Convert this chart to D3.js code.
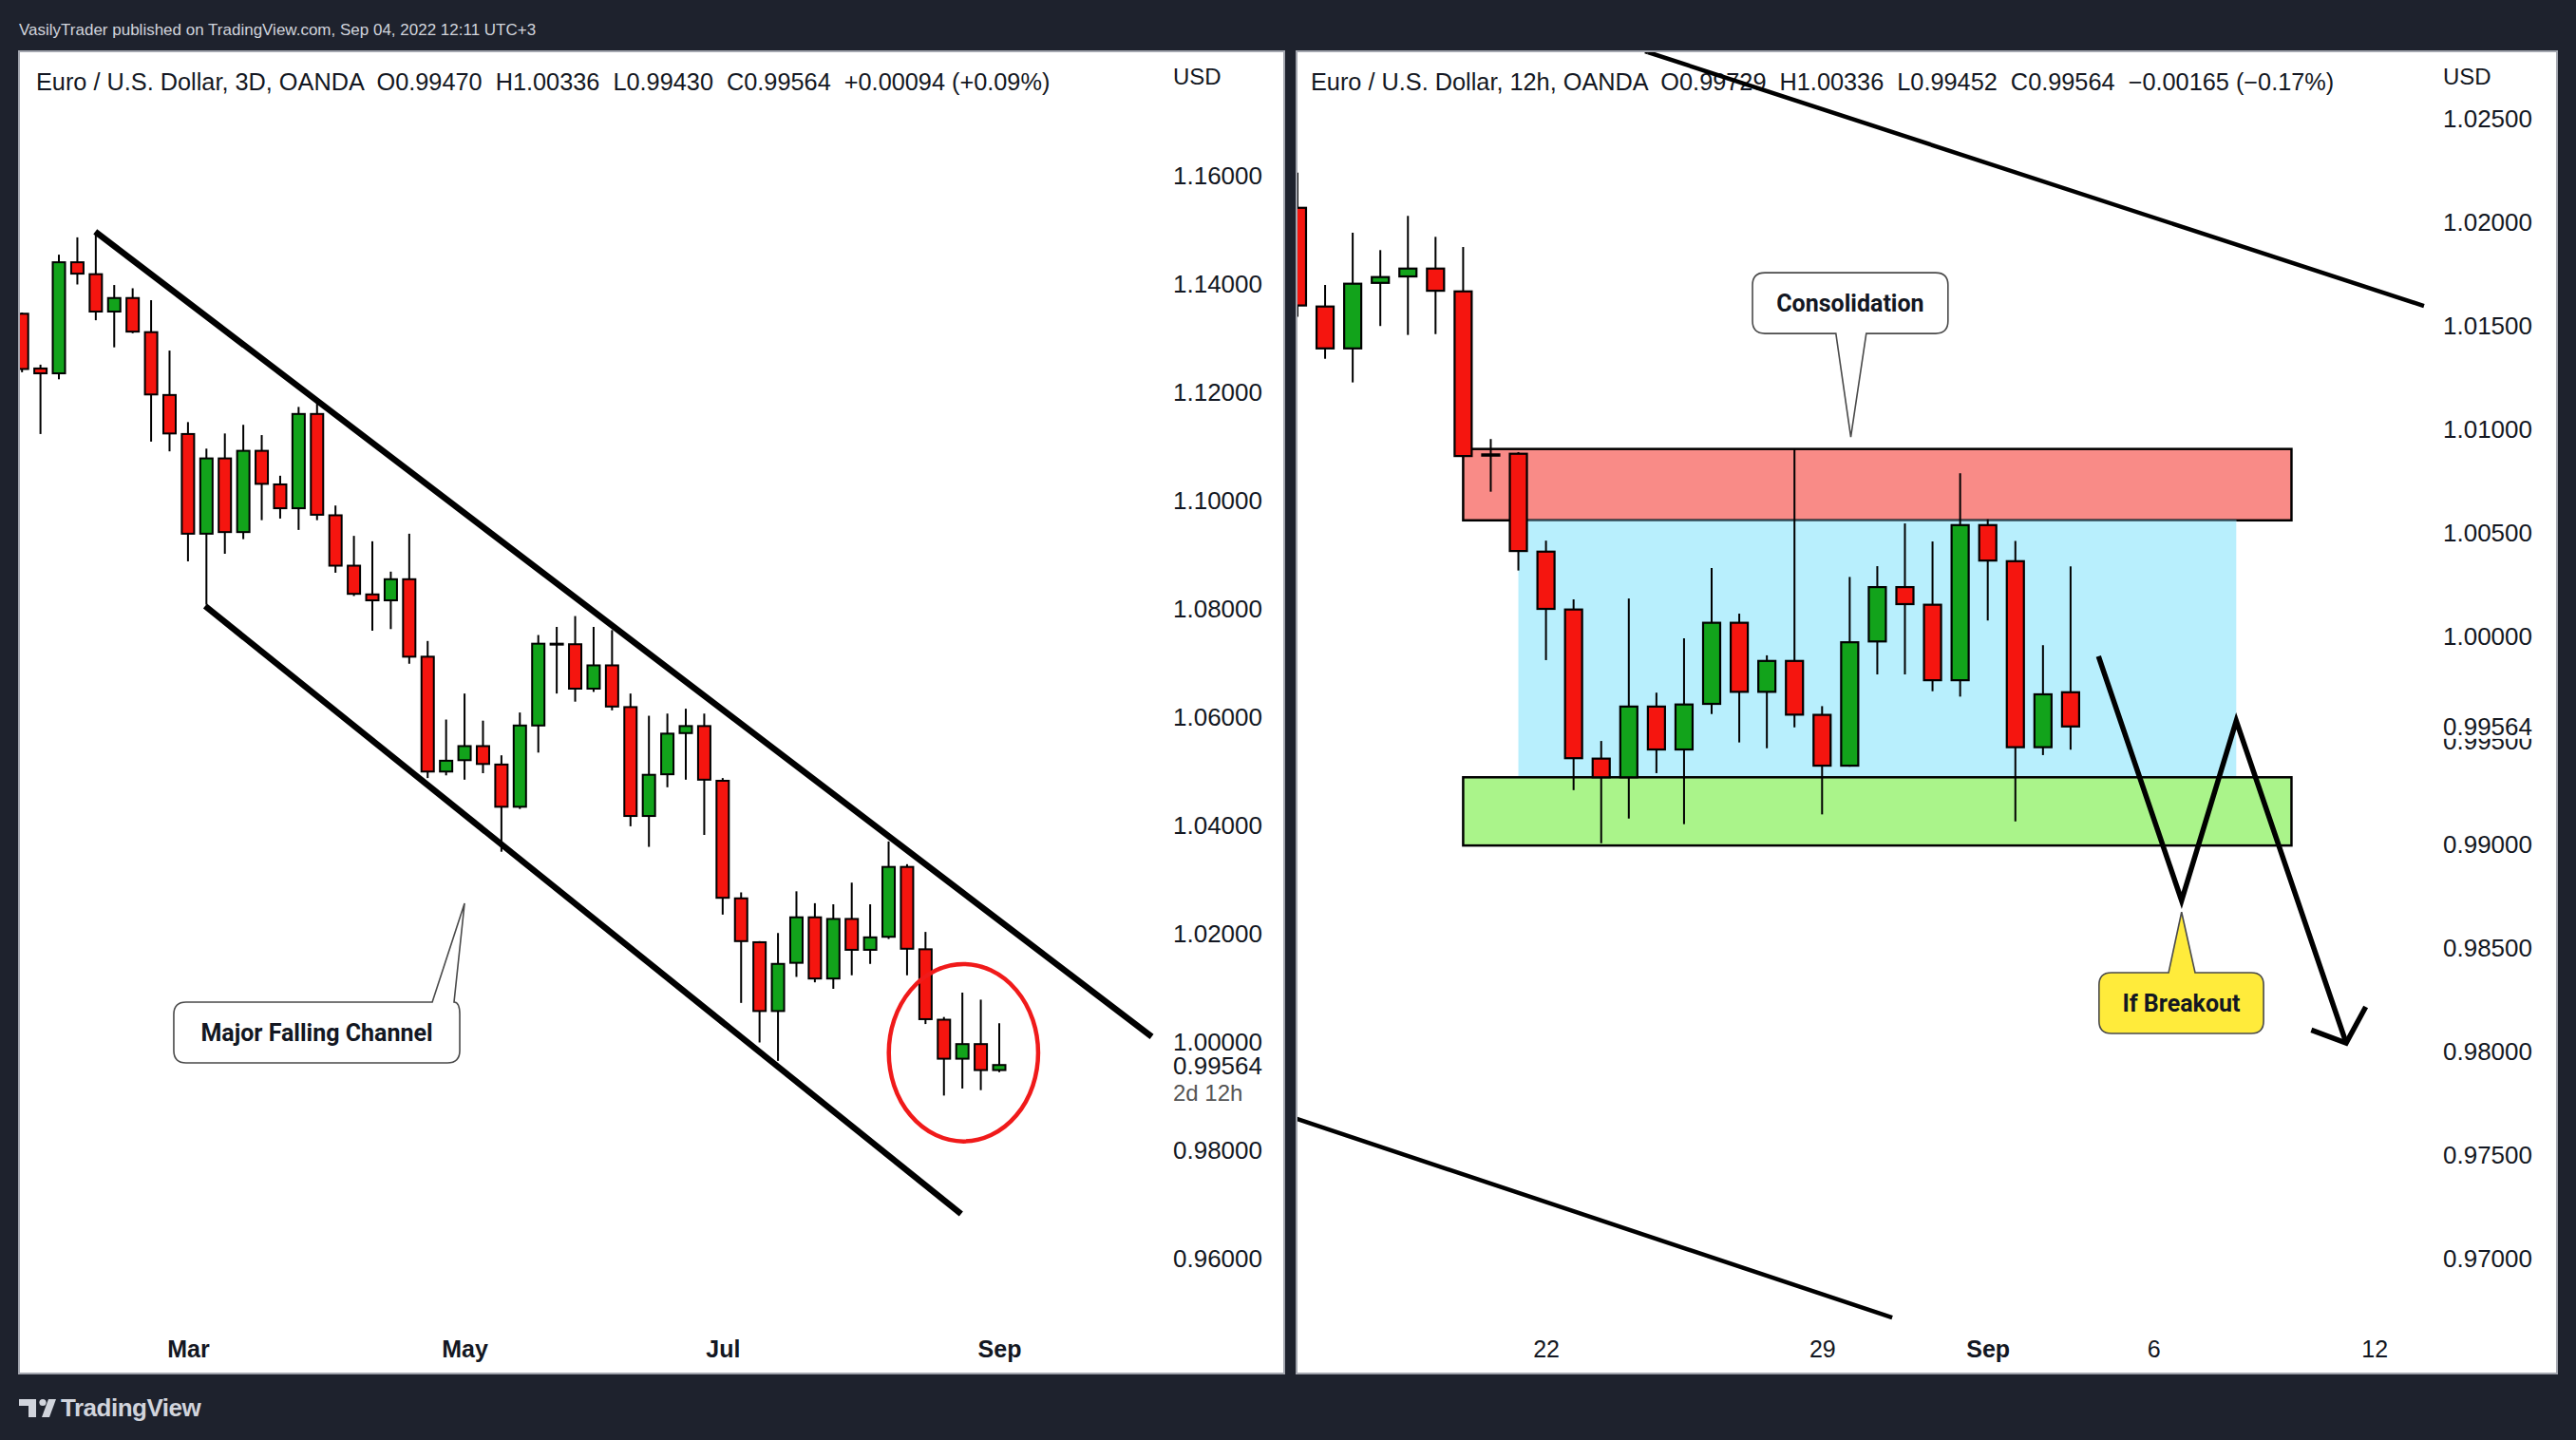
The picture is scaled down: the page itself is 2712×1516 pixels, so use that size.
<!DOCTYPE html>
<html><head><meta charset="utf-8">
<script src="https://cdn.jsdelivr.net/npm/d3@7"></script>
<style>body{margin:0;background:#1e222d;overflow:hidden} svg{display:block}</style>
</head><body><svg id="c" width="2712" height="1516"></svg>
<script>
// ---------------- DATA ----------------
// Left: EURUSD 3D candles (index 0..53)
const leftOpen  = [1.1343,1.1242,1.1233,1.1438,1.1416,1.1347,1.1372,1.1309,1.1193,1.1121,1.0937,1.1076,1.0940,1.1090,1.1028,1.0984,1.1158,1.0971,1.0878,1.0825,1.0814,1.0853,1.0710,1.0498,1.0519,1.0545,1.0511,1.0433,1.0583,1.0734,1.0733,1.0651,1.0694,1.0617,1.0416,1.0493,1.0569,1.0582,1.0481,1.0264,1.0183,1.0056,1.0145,1.0229,1.0116,1.0226,1.0169,1.0193,1.0322,1.0170,1.0040,0.9968,0.9995,0.99470];
const leftHigh  = [1.1345,1.1249,1.1452,1.1484,1.1493,1.1396,1.1390,1.1368,1.1275,1.1143,1.1094,1.1122,1.1138,1.1119,1.1044,1.1171,1.1180,1.0989,1.0933,1.0923,1.0867,1.0937,1.0739,1.0594,1.0642,1.0592,1.0528,1.0607,1.0750,1.0765,1.0785,1.0765,1.0759,1.0642,1.0601,1.0605,1.0614,1.0605,1.0486,1.0275,1.0185,1.0200,1.0277,1.0255,1.0253,1.0293,1.0253,1.0369,1.0327,1.0202,1.0045,1.0090,1.0077,1.00336];
const leftLow   = [1.1235,1.1121,1.1222,1.1397,1.1331,1.1281,1.1307,1.1107,1.1089,1.0886,1.0806,1.0900,1.0927,1.0962,1.0965,1.0944,1.0962,1.0865,1.0822,1.0758,1.0761,1.0697,1.0486,1.0491,1.0483,1.0495,1.0350,1.0429,1.0533,1.0642,1.0627,1.0645,1.0611,1.0397,1.0359,1.0469,1.0483,1.0381,1.0234,1.0071,0.9998,0.9964,1.0119,1.0109,1.0097,1.0122,1.0143,1.0189,1.0122,1.0032,0.9900,0.9913,0.9910,0.99430];
const leftClose = [1.1241,1.1233,1.1438,1.1417,1.1347,1.1372,1.1310,1.1194,1.1122,1.0937,1.1076,1.0940,1.1090,1.1029,1.0984,1.1158,1.0972,1.0878,1.0826,1.0814,1.0853,1.0710,1.0498,1.0518,1.0545,1.0512,1.0433,1.0583,1.0734,1.0733,1.0651,1.0694,1.0618,1.0416,1.0492,1.0568,1.0582,1.0483,1.0265,1.0185,1.0056,1.0143,1.0229,1.0116,1.0226,1.0169,1.0192,1.0322,1.0171,1.0041,0.9968,0.9995,0.9947,0.99564];
const leftPriceTicks = [1.16,1.14,1.12,1.10,1.08,1.06,1.04,1.02,1.00,0.98,0.96];
const leftTimeTicks  = [9,24,38,53];
const leftTimeLabels = ["Mar","May","Jul","Sep"];

// Right: EURUSD 12h candles (bar index -9..19, 0 = Aug 22)
const rightStart = -9;
const rightOpen  = [1.02065,1.01589,1.01387,1.01703,1.01734,1.01772,1.01662,1.00870,1.00879,1.00407,1.00128,0.99409,0.99319,0.99660,0.99453,0.99673,1.00064,0.99731,0.99880,0.99620,0.99375,0.99974,1.00236,1.00151,0.99787,1.00535,1.00361,0.99464,0.99729];
const rightHigh  = [1.02235,1.01693,1.01945,1.01861,1.02026,1.01925,1.01876,1.00950,1.00887,1.00460,1.00177,0.99494,1.00181,0.99727,0.99989,1.00328,1.00108,0.99907,1.00902,0.99662,1.00285,1.00337,1.00543,1.00456,1.00785,1.00563,1.00459,0.99956,1.00336];
const rightLow   = [1.01540,1.01337,1.01223,1.01495,1.01452,1.01456,1.00866,1.00696,1.00316,0.99884,0.99257,0.99001,0.99120,0.99339,0.99093,0.99624,0.99487,0.99459,0.99560,0.99140,0.99370,0.99815,0.99815,0.99734,0.99708,1.00075,0.99106,0.99426,0.99452];
const rightClose = [1.01594,1.01387,1.01699,1.01731,1.01772,1.01665,1.00868,1.00876,1.00410,1.00131,0.99411,0.99319,0.99660,0.99453,0.99670,1.00064,0.99731,0.99880,0.99621,0.99375,0.99970,1.00236,1.00154,0.99787,1.00535,1.00364,0.99464,0.99719,0.99564];
const rightPriceTicks = [1.025,1.02,1.015,1.01,1.005,1.00,0.995,0.99,0.985,0.98,0.975,0.97];
const rightTimeTicks  = [0,10,16,22,30];
const rightTimeLabels = ["22","29","Sep","6","12"];

// Drawings (bar index, price)
const channelUpper = [[3.97,1.14945],[61.27,1.00087]];
const channelLower = [[9.93,1.08035],[50.93,0.96815]];
const circleMark   = [51.06,0.9979,4.05,0.01636]; // centre index, centre price, index radius, price radius
const leftCallout  = {text:"Major Falling Channel", box:[8.23,23.74,1.00725,0.99603], tail:[22.25,23.43,24.0,1.02548]};

const redZone   = [-3,27,1.00902,1.00558];
const blueZone  = [-1,25,1.00558,0.99319];
const greenZone = [-3,27,0.99319,0.98990];
const trendTop  = [[3.70,1.02815],[31.8,1.01592]];
const trendLow  = [[-12,0.97804],[12.54,0.96714]];
const zigzag    = [[20.01,0.99903],[23.02,0.98725],[25.0,0.99591],[28.98,0.98038]];
const arrowHead = [[27.72,0.98100],[28.98,0.98038],[29.69,0.98212]];
const consCallout = {text:"Consolidation", box:[7.48,14.56,1.01752,1.01459], tail:[10.5,11.6,11.04,1.0096]};
const brkCallout  = {text:"If Breakout", box:[20.03,25.99,0.98377,0.98084], tail:[22.55,23.51,23.02,0.98669]};

// ---------------- DRAW ----------------
const FONT = "'Liberation Sans', Arial, sans-serif";
const BOLD = "Roboto, 'Liberation Sans', Arial, sans-serif";
const UP = "#12a31b", DOWN = "#f5150f", INK = "#131722";
const svg = d3.select("#c");
svg.append("rect").attr("width",2712).attr("height",1516).attr("fill","#1e222d");

svg.append("text").attr("x",20).attr("y",31).attr("dominant-baseline","central")
  .attr("font-family",FONT).attr("font-size",17).attr("fill","#d1d4dc")
  .text("VasilyTrader published on TradingView.com, Sep 04, 2022 12:11 UTC+3");

const panels = [{x0:20,x1:1352},{x0:1365,x1:2692}];
const PY0 = 54, PY1 = 1446;
panels.forEach((p,i)=>{
  svg.append("rect").attr("x",p.x0).attr("y",PY0).attr("width",p.x1-p.x0).attr("height",PY1-PY0)
    .attr("fill","#fff").attr("stroke","#a3a6af").attr("stroke-width",2);
  svg.append("clipPath").attr("id","clip"+i).append("rect")
    .attr("x",p.x0+1).attr("y",PY0+1).attr("width",p.x1-p.x0-2).attr("height",PY1-PY0-2);
});

const xL = d3.scaleLinear().domain([0,53]).range([23.2,1052]);
const yL = d3.scaleLinear().domain([0.96,1.16]).range([1324.5,183.7]);
const xR = d3.scaleLinear().domain([0,19]).range([1627.6,2179.9]);
const yR = d3.scaleLinear().domain([0.97,1.025]).range([1324.6,123.8]);

function legend(x, txt){
  svg.append("text").attr("x",x).attr("y",86).attr("dominant-baseline","central")
    .attr("font-family",FONT).attr("font-size",25.3).attr("fill",INK)
    .attr("xml:space","preserve").style("white-space","pre").text(txt);
}
legend(38,"Euro / U.S. Dollar, 3D, OANDA  O0.99470  H1.00336  L0.99430  C0.99564  +0.00094 (+0.09%)");
legend(1380,"Euro / U.S. Dollar, 12h, OANDA  O0.99729  H1.00336  L0.99452  C0.99564  \u22120.00165 (\u22120.17%)");
[1235,2572].forEach(x=>svg.append("text").attr("x",x).attr("y",80).attr("dominant-baseline","central")
  .attr("font-family",FONT).attr("font-size",24).attr("fill",INK).text("USD"));

function priceAxis(x, scale, ticks){
  const g = svg.append("g").attr("transform",`translate(${x},0)`)
    .call(d3.axisRight(scale).tickValues(ticks).tickSize(0).tickPadding(0).tickFormat(d3.format(".5f")));
  g.select(".domain").remove();
  g.selectAll("text").attr("font-family",FONT).attr("font-size",26).attr("fill",INK).attr("dy","0.36em");
  g.attr("font-family",null).attr("font-size",null);
  return g;
}
function timeAxis(scale, ticks, labels){
  const g = svg.append("g").attr("transform","translate(0,1420)")
    .call(d3.axisBottom(scale).tickValues(ticks).tickSize(0).tickPadding(0).tickFormat((d,i)=>labels[i]));
  g.select(".domain").remove();
  g.selectAll("text").attr("y",0).attr("dy","0.36em").attr("font-family",FONT).attr("font-size",25)
    .attr("fill",INK).attr("font-weight",(d,i)=>/[A-Za-z]/.test(labels[i])?"bold":"normal");
  g.attr("font-family",null).attr("font-size",null);
}
priceAxis(1235, yL, leftPriceTicks);
priceAxis(2572, yR, rightPriceTicks);
timeAxis(xL, leftTimeTicks, leftTimeLabels);
timeAxis(xR, rightTimeTicks, rightTimeLabels);

// last price labels
const lastL = leftClose[leftClose.length-1];
svg.append("text").attr("x",1235).attr("y",yL(lastL)).attr("dy","0.36em").attr("font-family",FONT)
  .attr("font-size",26).attr("fill",INK).text(d3.format(".5f")(lastL));
svg.append("text").attr("x",1235).attr("y",yL(lastL)+29).attr("dy","0.36em").attr("font-family",FONT)
  .attr("font-size",24).attr("fill","#555").text("2d 12h");
const lastR = rightClose[rightClose.length-1];
svg.append("rect").attr("x",2560).attr("y",yR(lastR)-14).attr("width",125).attr("height",27).attr("fill","#fff");
svg.append("text").attr("x",2572).attr("y",yR(lastR)).attr("dy","0.36em").attr("font-family",FONT)
  .attr("font-size",26).attr("fill",INK).text(d3.format(".5f")(lastR));

function candles(g, xs, ys, O,H,L,C, start, bw, sw){
  const idx = d3.range(O.length);
  g.selectAll(null).data(idx).join("line")
    .attr("x1",i=>xs(start+i)).attr("x2",i=>xs(start+i))
    .attr("y1",i=>ys(H[i])).attr("y2",i=>ys(L[i])).attr("stroke","#000").attr("stroke-width",2);
  g.selectAll(null).data(idx).join("rect")
    .attr("x",i=>xs(start+i)-bw/2).attr("width",bw)
    .attr("y",i=>ys(Math.max(O[i],C[i])))
    .attr("height",i=>Math.max(Math.abs(ys(O[i])-ys(C[i])),1))
    .attr("fill",i=>C[i]>=O[i]?UP:DOWN).attr("stroke","#000").attr("stroke-width",sw);
}
function line(g, pts, xs, ys, w, color){
  g.append("path").attr("d",d3.line().x(d=>xs(d[0])).y(d=>ys(d[1]))(pts))
    .attr("fill","none").attr("stroke",color||"#000").attr("stroke-width",w)
    .attr("stroke-linecap","butt").attr("stroke-linejoin","miter");
}
function callout(g, c, xs, ys, fill){
  const x0=xs(c.box[0]), x1=xs(c.box[1]), y0=ys(c.box[2]), y1=ys(c.box[3]);
  const b0=xs(c.tail[0]), b1=xs(c.tail[1]), tx=xs(c.tail[2]), ty=ys(c.tail[3]);
  const r=13, top = ty < y0;
  let d = `M${x0+r},${y0}`;
  if(top) d += `L${b0},${y0}L${tx},${ty}L${b1},${y0}`;
  d += `L${Math.max(x1-r,b1)},${y0}Q${x1},${y0} ${x1},${y0+r}L${x1},${y1-r}Q${x1},${y1} ${x1-r},${y1}`;
  if(!top) d += `L${b1},${y1}L${tx},${ty}L${b0},${y1}`;
  d += `L${x0+r},${y1}Q${x0},${y1} ${x0},${y1-r}L${x0},${y0+r}Q${x0},${y0} ${x0+r},${y0}Z`;
  g.append("path").attr("d",d).attr("fill",fill).attr("stroke","#4a4a4a").attr("stroke-width",1.6);
  g.append("text").attr("x",(x0+x1)/2).attr("y",(y0+y1)/2).attr("dy","0.36em").attr("text-anchor","middle")
    .attr("font-family",BOLD).attr("font-weight","bold").attr("font-size",25).attr("fill","#131722").text(c.text);
}

// Left panel
const gL = svg.append("g").attr("clip-path","url(#clip0)");
candles(gL, xL, yL, leftOpen, leftHigh, leftLow, leftClose, 0, 13, 2);
line(gL, channelUpper, xL, yL, 6.5);
line(gL, channelLower, xL, yL, 6.5);
gL.append("ellipse").attr("cx",xL(circleMark[0])).attr("cy",yL(circleMark[1]))
  .attr("rx",xL(circleMark[2])-xL(0)).attr("ry",yL(0)-yL(circleMark[3]))
  .attr("fill","none").attr("stroke","#f01a1a").attr("stroke-width",4.5);
callout(gL, leftCallout, xL, yL, "#fff");

// Right panel
const gR = svg.append("g").attr("clip-path","url(#clip1)");
function zone(z, fill, stroke){
  gR.append("rect").attr("x",xR(z[0])).attr("width",xR(z[1])-xR(z[0]))
    .attr("y",yR(z[2])).attr("height",yR(z[3])-yR(z[2])).attr("fill",fill)
    .attr("stroke",stroke||"none").attr("stroke-width",2.5);
}
zone(redZone,"#f98b87","#000");
zone(blueZone,"#b8effd");
zone(greenZone,"#aaf48a","#000");
gR.append("line").attr("x1",xR(blueZone[0])).attr("x2",xR(blueZone[1])).attr("y1",yR(blueZone[2])).attr("y2",yR(blueZone[2]))
  .attr("stroke","#2f4a55").attr("stroke-width",2);
candles(gR, xR, yR, rightOpen, rightHigh, rightLow, rightClose, rightStart, 18, 2.2);
line(gR, trendTop, xR, yR, 4.5);
line(gR, trendLow, xR, yR, 4.5);
line(gR, zigzag, xR, yR, 5.5);
line(gR, arrowHead, xR, yR, 5.5);
callout(gR, consCallout, xR, yR, "#fff");
callout(gR, brkCallout, xR, yR, "#ffeb3b");
// extend top trend line to panel top
(function(){
  const [a,b]=trendTop; const xa=xR(a[0]), ya=yR(a[1]), xb=xR(b[0]), yb=yR(b[1]);
  const t = (PY0-ya)/(yb-ya); const xs0 = xa + t*(xb-xa);
  gR.append("line").attr("x1",xs0).attr("y1",PY0).attr("x2",xa).attr("y2",ya).attr("stroke","#000").attr("stroke-width",4.5);
})();

// Footer logo
const fl = svg.append("g").attr("fill","#d1d4dc");
fl.append("path").attr("d","M20,1473 h18 v19 h-8 v-12 h-10 z");
fl.append("circle").attr("cx",45).attr("cy",1476.5).attr("r",3.6);
fl.append("path").attr("d","M51,1473 h8 l-7,19 h-8 z");
svg.append("text").attr("x",64).attr("y",1482).attr("dominant-baseline","central")
  .attr("font-family",FONT).attr("font-weight","bold").attr("font-size",26).attr("fill","#d1d4dc").attr("letter-spacing","-0.5")
  .text("TradingView");
</script></body></html>
